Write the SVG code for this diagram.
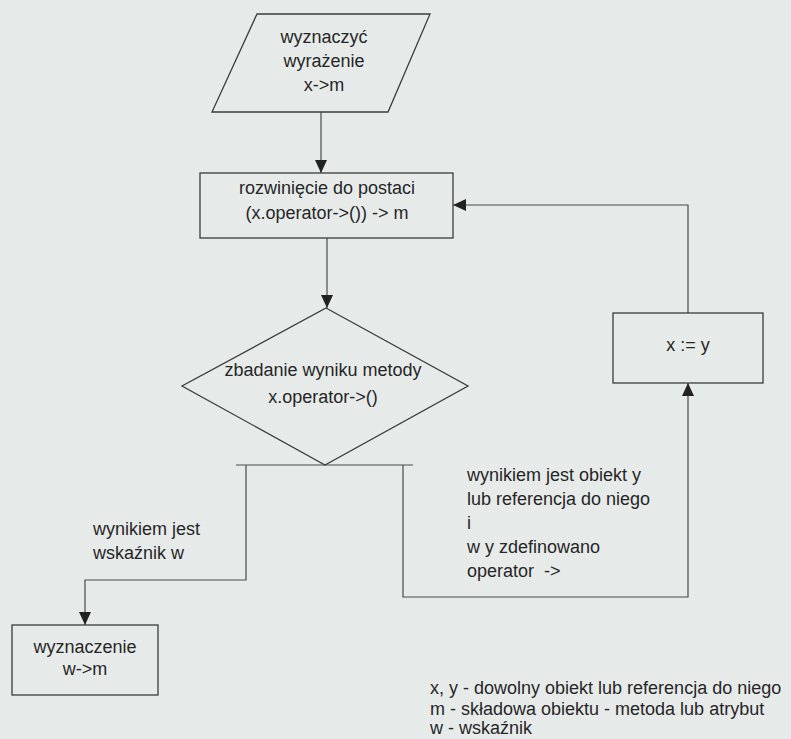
<svg xmlns="http://www.w3.org/2000/svg" width="791" height="739" viewBox="0 0 791 739">
<style>
.bg{fill:#e6ebea}
.shape{fill:none;stroke:#3c3c3c;stroke-width:1.3}
.conn{fill:none;stroke:#4a4a4a;stroke-width:1.2}
text{font-family:"Liberation Sans",Arial,sans-serif;font-size:18px;fill:#262626}
.c{text-anchor:middle}
</style>
<defs>
<marker id="arr" markerUnits="userSpaceOnUse" markerWidth="13" markerHeight="12" refX="13" refY="6" orient="auto">
<path d="M0,0 L13,6 L0,12 z" fill="#222"/>
</marker>
</defs>
<rect class="bg" x="0" y="0" width="791" height="739"/>
<g id="connectors">
<path class="conn" d="M321,112 L321,173" marker-end="url(#arr)"/>
<path class="conn" d="M327,238 L327,308" marker-end="url(#arr)"/>
<path class="conn" d="M236,465 L413,465"/>
<path class="conn" d="M246,465 L246,580 L85,580 L85,625" marker-end="url(#arr)"/>
<path class="conn" d="M403,465 L403,597 L688,597 L688,383" marker-end="url(#arr)"/>
<path class="conn" d="M688,313 L688,205 L453,205" marker-end="url(#arr)"/>
</g>
<g id="n-input">
<polygon class="shape" points="257,14 430,14 388,112 212,112"/>
<text class="c" x="324" y="43">wyznaczyć</text>
<text class="c" x="324" y="67">wyrażenie</text>
<text class="c" x="324" y="91">x-&gt;m</text>
</g>
<g id="n-rozwiniecie">
<rect class="shape" x="200" y="173" width="253" height="65"/>
<text class="c" x="327" y="194">rozwinięcie do postaci</text>
<text class="c" x="327" y="219">(x.operator-&gt;()) -&gt; m</text>
</g>
<g id="n-decision">
<polygon class="shape" points="326,308 468,386 325,465 182,386"/>
<text class="c" x="323" y="376">zbadanie wyniku metody</text>
<text class="c" x="323" y="403">x.operator-&gt;()</text>
</g>
<g id="n-assign">
<rect class="shape" x="613" y="313" width="150" height="70"/>
<text class="c" x="688" y="351">x := y</text>
</g>
<g id="n-wyznaczenie">
<rect class="shape" x="12" y="625" width="146" height="70"/>
<text class="c" x="85" y="653">wyznaczenie</text>
<text class="c" x="85" y="675">w-&gt;m</text>
</g>
<g id="label-left">
<text x="93" y="535">wynikiem jest</text>
<text x="93" y="559">wskaźnik w</text>
</g>
<g id="label-right">
<text x="467" y="481">wynikiem jest obiekt y</text>
<text x="467" y="505">lub referencja do niego</text>
<text x="467" y="529">i</text>
<text x="467" y="553">w y zdefinowano</text>
<text x="467" y="577" xml:space="preserve">operator  -&gt;</text>
</g>
<g id="legend">
<text x="430" y="694">x, y - dowolny obiekt lub referencja do niego</text>
<text x="430" y="715">m - składowa obiektu - metoda lub atrybut</text>
<text x="430" y="734">w - wskaźnik</text>
</g>
</svg>
